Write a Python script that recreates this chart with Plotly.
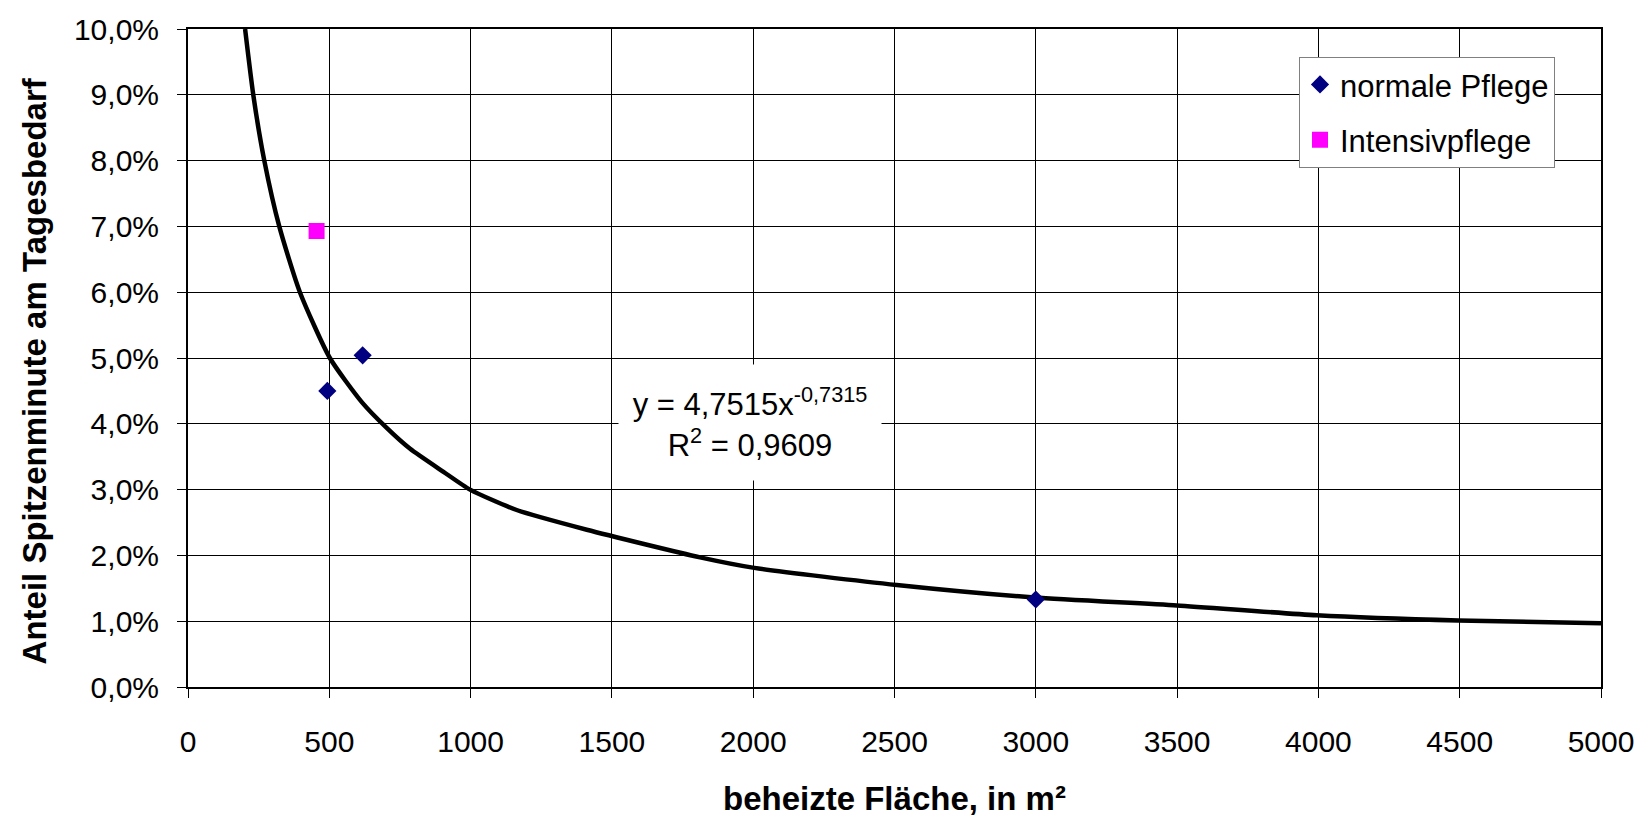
import plotly.graph_objects as go

# ---- data ----
normal_x = [493, 618, 3000]
normal_y = [0.0450, 0.0504, 0.0133]
intensiv_x = [455]
intensiv_y = [0.0693]

trend_x = [202, 231, 270, 323, 396, 502, 615, 705, 786, 904, 998, 1163, 1411,
           1812, 2004, 2508, 2995, 3499, 3994, 4495, 5000]
trend_y = [0.1000, 0.0900, 0.0800, 0.0700, 0.0600, 0.0500, 0.0433, 0.0393, 0.0362,
           0.0327, 0.0300, 0.0269, 0.0239, 0.0197, 0.0181, 0.0155, 0.0136, 0.0124,
           0.0109, 0.0101, 0.0097]

x_ticks = [0, 500, 1000, 1500, 2000, 2500, 3000, 3500, 4000, 4500, 5000]
y_ticks = [0.00, 0.01, 0.02, 0.03, 0.04, 0.05, 0.06, 0.07, 0.08, 0.09, 0.10]

x_title = "beheizte Fläche, in m²"
y_title = "Anteil Spitzenminute am Tagesbedarf"
eq_text = "y = 4,7515x<sup>-0,7315</sup><br>R<sup>2</sup> = 0,9609"
series_names = ["normale Pflege", "Intensivpflege"]

FONT = "Liberation Sans, Arial, sans-serif"

fig = go.Figure()
fig.add_trace(go.Scatter(
    x=trend_x, y=trend_y, mode="lines",
    line=dict(color="black", width=4.5, shape="spline", smoothing=0.6),
    showlegend=False, hoverinfo="skip"))
fig.add_trace(go.Scatter(
    x=normal_x, y=normal_y, mode="markers", name=series_names[0],
    legendgroup="a",
    marker=dict(symbol="diamond", size=14, color="#000080")))
fig.add_trace(go.Scatter(
    x=intensiv_x, y=intensiv_y, mode="markers", name=series_names[1],
    legendgroup="b",
    marker=dict(symbol="square", size=16, color="#FF00FF")))

fig.update_layout(
    width=1648, height=816,
    margin=dict(l=188, r=47, t=24, b=129),
    paper_bgcolor="white", plot_bgcolor="white",
    separators=",.",
    font=dict(family=FONT, size=30, color="black"),
    legend=dict(
        x=(1299 - 188) / 1413, y=(687 - 52) / 663,
        xanchor="left", yanchor="top",
        bgcolor="white", bordercolor="#808080", borderwidth=1,
        font=dict(family=FONT, size=31, color="black"),
        tracegroupgap=12, itemwidth=30,
    ),
    xaxis=dict(
        range=[0, 5000], tickvals=x_ticks, ticktext=[str(v) for v in x_ticks],
        showgrid=True, gridcolor="black", gridwidth=1,
        showline=True, linecolor="black", linewidth=2, mirror=True,
        ticks="outside", ticklen=9, tickcolor="black", tickwidth=1,
        ticklabelstandoff=18, zeroline=False,
        tickfont=dict(family=FONT, size=30),
    ),
    yaxis=dict(
        range=[0, 0.10], tickvals=y_ticks, tickformat=".1%",
        showgrid=True, gridcolor="black", gridwidth=1,
        showline=True, linecolor="black", linewidth=2, mirror=True,
        ticks="outside", ticklen=9, tickcolor="black", tickwidth=1,
        ticklabelstandoff=12, zeroline=False,
        tickfont=dict(family=FONT, size=30),
    ),
    annotations=[
        dict(text="<b>" + x_title + "</b>", xref="paper", yref="paper",
             x=0.5, y=(687 - 799) / 663, xanchor="center", yanchor="middle",
             showarrow=False, font=dict(family=FONT, size=33, color="black")),
        dict(text="<b>" + y_title + "</b>", xref="paper", yref="paper",
             x=(34 - 188) / 1413, y=(687 - 369) / 663, xanchor="center",
             yanchor="middle", textangle=-90, showarrow=False,
             font=dict(family=FONT, size=33, color="black")),
        dict(text=eq_text, xref="x", yref="y", x=1990, y=0.0402,
             xanchor="center", yanchor="middle", showarrow=False,
             bgcolor="white", width=260, height=113, align="center",
             font=dict(family=FONT, size=31, color="black")),
    ],
)

fig.write_html("out.html")
